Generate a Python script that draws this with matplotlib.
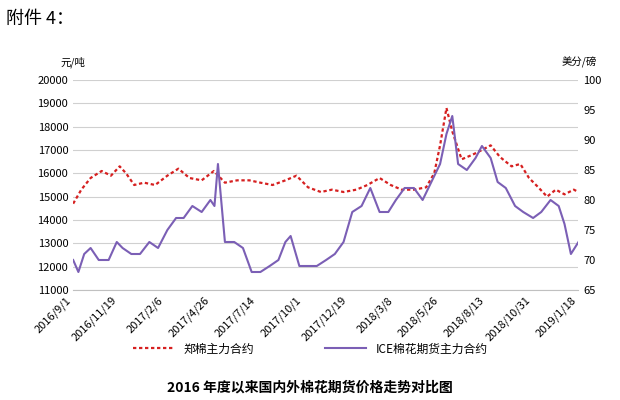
import matplotlib
matplotlib.use('Agg')
import numpy as np
import pandas as pd
import matplotlib.pyplot as plt
import matplotlib.dates as mdates

plt.rcParams['font.family'] = ['Noto Sans CJK SC', 'DejaVu Sans']

# 郑棉主力合约, 元/吨
zc_dates = ['2016-09-01', '2016-09-15', '2016-10-01', '2016-10-20', '2016-11-05', '2016-11-20',
            '2016-12-01', '2016-12-15', '2017-01-01', '2017-01-20', '2017-02-10', '2017-03-01',
            '2017-03-20', '2017-04-10', '2017-05-01', '2017-05-20', '2017-06-10', '2017-07-01',
            '2017-07-20', '2017-08-10', '2017-09-01', '2017-09-20', '2017-10-10', '2017-11-01',
            '2017-11-20', '2017-12-10', '2018-01-01', '2018-01-20', '2018-02-10', '2018-03-01',
            '2018-03-20', '2018-04-10', '2018-05-01', '2018-05-15', '2018-05-25', '2018-06-05',
            '2018-06-15', '2018-07-01', '2018-07-20', '2018-08-05', '2018-08-20', '2018-09-05',
            '2018-09-25', '2018-10-10', '2018-10-25', '2018-11-10', '2018-11-25', '2018-12-10',
            '2018-12-25', '2019-01-10', '2019-01-18']
zc_vals = [14700, 15300, 15800, 16100, 15900, 16300, 16000, 15500, 15600, 15500, 15900, 16200,
           15800, 15700, 16100, 15600, 15700, 15700, 15600, 15500, 15700, 15900, 15400, 15200,
           15300, 15200, 15300, 15500, 15800, 15500, 15300, 15300, 15400, 16000, 17200, 18800,
           17800, 16600, 16800, 17000, 17200, 16700, 16300, 16400, 15800, 15400, 15000, 15300,
           15100, 15300, 15200]

# ICE棉花期货主力合约, 美分/磅
ice_dates = ['2016-09-01', '2016-09-10', '2016-09-20', '2016-10-01', '2016-10-15', '2016-11-01',
             '2016-11-15', '2016-11-25', '2016-12-10', '2016-12-25', '2017-01-10', '2017-01-25',
             '2017-02-10', '2017-02-25', '2017-03-10', '2017-03-25', '2017-04-10', '2017-04-25',
             '2017-05-02', '2017-05-08', '2017-05-20', '2017-06-05', '2017-06-20', '2017-07-05',
             '2017-07-20', '2017-08-05', '2017-08-20', '2017-09-01', '2017-09-10', '2017-09-25',
             '2017-10-10', '2017-10-25', '2017-11-10', '2017-11-25', '2017-12-10', '2017-12-25',
             '2018-01-10', '2018-01-25', '2018-02-10', '2018-02-25', '2018-03-10', '2018-03-25',
             '2018-04-10', '2018-04-25', '2018-05-10', '2018-05-25', '2018-06-05', '2018-06-15',
             '2018-06-25', '2018-07-10', '2018-07-25', '2018-08-05', '2018-08-20', '2018-09-01',
             '2018-09-15', '2018-10-01', '2018-10-15', '2018-11-01', '2018-11-15', '2018-12-01',
             '2018-12-15', '2018-12-25', '2019-01-05', '2019-01-18']
ice_vals = [70, 68, 71, 72, 70, 70, 73, 72, 71, 71, 73, 72, 75, 77, 77, 79, 78, 80, 79, 86,
            73, 73, 72, 68, 68, 69, 70, 73, 74, 69, 69, 69, 70, 71, 73, 78, 79, 82, 78, 78,
            80, 82, 82, 80, 83, 86, 91, 94, 86, 85, 87, 89, 87, 83, 82, 79, 78, 77, 78, 80,
            79, 76, 71, 73]

zc_x = pd.to_datetime(zc_dates)
ice_x = pd.to_datetime(ice_dates)

tick_labels = ['2016/9/1', '2016/11/19', '2017/2/6', '2017/4/26', '2017/7/14', '2017/10/1',
               '2017/12/19', '2018/3/8', '2018/5/26', '2018/8/13', '2018/10/31', '2019/1/18']

fig = plt.figure(figsize=(6.2, 4.0), dpi=100)
ax = fig.add_axes([0.118, 0.275, 0.815, 0.525])
ax2 = ax.twinx()

l1, = ax.plot(zc_x, zc_vals, color='#d62020', linestyle=(0, (1.5, 1.2)), linewidth=1.6,
              label='郑棉主力合约')
l2, = ax2.plot(ice_x, ice_vals, color='#7b5fb5', linewidth=1.5, label='ICE棉花期货主力合约')

ax.set_ylim(11000, 20000)
ax.set_yticks(np.arange(11000, 20001, 1000))
ax2.set_ylim(65, 100)
ax2.set_yticks(np.arange(65, 101, 5))
ax.yaxis.grid(True, color='#d0d0d0', linewidth=0.8)
ax.set_axisbelow(True)

ticks = pd.to_datetime(tick_labels, format='%Y/%m/%d')
ax.set_xlim(ticks[0], ticks[-1])
ax.set_xticks(ticks)
ax.set_xticklabels(tick_labels, rotation=45, ha='right', fontsize=7.5)
for a in (ax, ax2):
    for s in a.spines.values():
        s.set_visible(False)
    a.tick_params(length=0, labelsize=8)
ax.spines['bottom'].set_visible(True)
ax.spines['bottom'].set_color('#c0c0c0')

fig.text(0.118, 0.835, '元/吨', fontsize=7.5, ha='center')
fig.text(0.935, 0.835, '美分/磅', fontsize=7.5, ha='center')
fig.text(0.01, 0.94, '附件 4：', fontsize=13, ha='left')

fig.legend(handles=[l1, l2], loc='lower center', bbox_to_anchor=(0.5, 0.085), ncol=2,
           frameon=False, fontsize=8.5, handlelength=3.5, columnspacing=6)
fig.text(0.5, 0.02, '2016 年度以来国内外棉花期货价格走势对比图', fontsize=10,
         fontweight='bold', ha='center')

fig.savefig('out.png', dpi=100)
